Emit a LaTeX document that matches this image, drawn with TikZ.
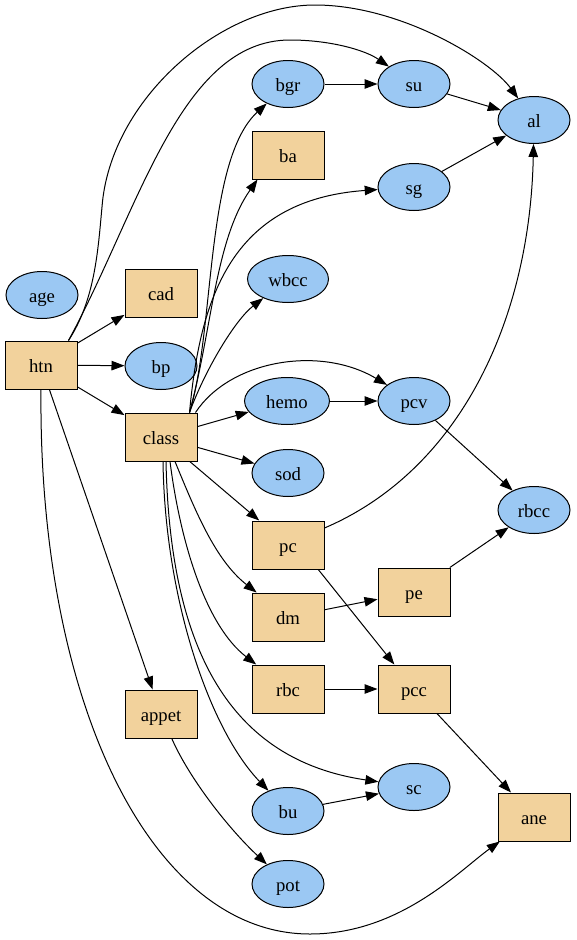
\documentclass[tikz,border=0pt]{standalone}
\usepackage{fontspec}
\setmainfont{Liberation Serif}
\usepackage{xcolor}
\usetikzlibrary{arrows.meta,shapes.geometric}

\definecolor{numfill}{HTML}{9BC8F3}
\definecolor{nomfill}{HTML}{F2D29C}

\begin{document}
\begin{tikzpicture}[x=1pt, y=-1pt, font=\fontsize{18.7}{22}\selectfont,
  num/.style={ellipse, draw, fill=numfill, line width=1pt, minimum width=72pt,
    minimum height=47pt, inner sep=0pt, text height=16pt, text depth=2pt},
  nom/.style={rectangle, draw, fill=nomfill, line width=1pt, minimum width=72pt,
    minimum height=48pt, inner sep=0pt, text height=16pt, text depth=2pt},
  link/.style={-{Triangle[length=13pt,width=9.5pt]}, line width=1pt}]
\useasboundingbox (0,0) rectangle (576,940);
% numeric variables
\foreach \n/\x/\y in {age/42/295, bp/161/366, bgr/288/84, sod/288/473, bu/288/811,
    pot/288/884, su/414/84, sg/414/187, pcv/414/401, sc/414/787, al/534/120, rbcc/534/510}
  \node[num] (\n) at (\x,\y) {\n};
\node[num, minimum width=81pt] (wbcc) at (288,279) {wbcc};
\node[num, minimum width=85pt] (hemo) at (287,401) {hemo};
% nominal variables
\foreach \n/\x/\y in {cad/161/293, htn/41/365, class/161/437, ba/288/155, pc/288/545,
    dm/288/617, rbc/288/689, appet/161/714, pe/414/592, pcc/414/689, ane/534/817}
  \node[nom] (\n) at (\x,\y) {\n};
% straight links
\foreach \a/\b in {htn/cad, htn/bp, htn/class, htn/appet, class/hemo, class/sod, class/pc,
    bgr/su, su/al, sg/al, hemo/pcv, pcv/rbcc, dm/pe, pe/rbcc, rbc/pcc, pcc/ane, bu/sc}
  \draw[link] (\a) -- (\b);
\draw[link] (pc.-39) -- (pcc);
% long arcs out of htn
\draw[link] ([xshift=-9pt]htn.north east) .. controls (95,300) and (98,250) .. (102,207)
  .. controls (110,100) and (220,5) .. (315,5) .. controls (400,5) and (490,60) .. (al);
\draw[link] ([xshift=-9pt]htn.north east) .. controls (139,211) and (180,40) .. (290,40)
  .. controls (330,40) and (365,50) .. (su);
\draw[link] (htn.south) .. controls (38,700) and (150,934) .. (310,934)
  .. controls (400,934) and (460,870) .. (ane);
% fan out of class
\draw[link] ([xshift=-8pt]class.north east) .. controls (215,330) and (205,160) .. (bgr);
\draw[link] ([xshift=-8pt]class.north east) .. controls (212,330) and (215,240) .. ([xshift=6pt]ba.south west);
\draw[link] ([xshift=-8pt]class.north east) .. controls (200,300) and (230,200) .. (sg);
\draw[link] ([xshift=-8pt]class.north east) .. controls (205,370) and (235,320) .. (wbcc);
\draw[link] ([xshift=-2pt]class.north east) .. controls (230,360) and (320,345) .. (pcv);
\draw[link] ([xshift=14pt]class.south) .. controls (195,510) and (215,560) .. (dm);
\draw[link] ([xshift=9pt]class.south) .. controls (180,540) and (205,625) .. (rbc);
\draw[link] ([xshift=2pt]class.south) .. controls (165,600) and (210,730) .. (bu);
\draw[link] ([xshift=5pt]class.south) .. controls (170,650) and (230,760) .. (sc);
% remaining curves
\draw[link] ([yshift=17pt]pc.east) .. controls (460,470) and (530,320) .. (al);
\draw[link] (appet) .. controls (190,780) and (230,830) .. (pot);
\end{tikzpicture}
\end{document}
